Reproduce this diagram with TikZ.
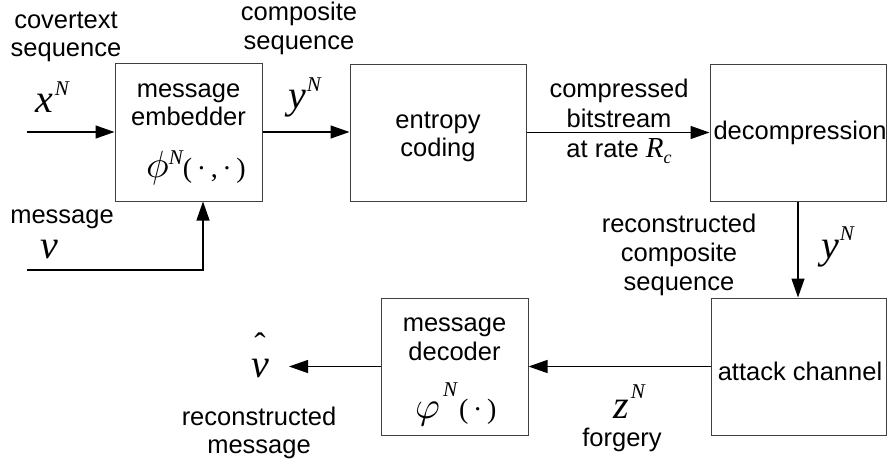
\documentclass[tikz,border=0pt]{standalone}
\usepackage{graphicx}
\usepackage{fontspec}
\setmainfont{Liberation Sans}
\newfontfamily\tms{Liberation Serif}
\usetikzlibrary{arrows.meta}

% italic symbol, superscript N, Greek symbol, and argument font
\newcommand{\mvar}[1]{{\tms\itshape\fontsize{40}{40}\selectfont #1}}
\newcommand{\supN}[1]{\raisebox{#1pt}{\tms\itshape\fontsize{21}{21}\selectfont N}}
\newcommand{\bigsym}[1]{\scalebox{3.8}{\fontsize{10}{12}\selectfont$#1$}}
\newcommand{\argfont}{\tms\fontsize{28}{28}\selectfont}

\begin{document}
\begin{tikzpicture}[x=1pt,y=-1pt,
  blk/.style={draw=black!75, line width=1pt, inner sep=0pt},
  lbl/.style={anchor=base, inner sep=0pt, font=\fontsize{25.5}{29}\selectfont},
  mth/.style={anchor=base west, inner sep=0pt},
  conn/.style={line width=1.3pt, -{Triangle[length=19pt,width=13pt]}}]

\useasboundingbox (0,0) rectangle (888,463);

% blocks
\node[blk, minimum width=147, minimum height=138] (emb) at (188.5,132) {};
\node[blk, minimum width=176, minimum height=137] (ent) at (438,132.5) {};
\node[blk, minimum width=176, minimum height=137] (dcp) at (798,132.5) {};
\node[blk, minimum width=175, minimum height=137] (atk) at (798.5,366.5) {};
\node[blk, minimum width=147, minimum height=137] (mdc) at (454.5,366.5) {};

% free ends
\coordinate (xin) at (27,132);
\coordinate (vin) at (27,270);
\coordinate (vbend) at (203,270);
\coordinate (vout) at (289,366.5);

% connectors
\draw[conn] (xin) -- (emb.west);
\draw[conn] (emb.east) -- (emb.east -| ent.west);
\draw[conn] (ent.east) -- (dcp.west);
\draw[conn] (vin) -- (vbend) -- (vbend |- emb.south);
\draw[conn] (dcp.south) -- (dcp.south |- atk.north);
\draw[conn] (atk.west) -- (mdc.east);
\draw[conn] (mdc.west) -- (vout);

% top-left labels
\node[lbl] (cov1) at (66,28) {covertext};
\node[lbl] (cov2) at (66,56) {sequence};
\node[mth] (xN) at (35,112) {\mvar{x}\hspace{2pt}\supN{17}};

\node[lbl] (cmp1) at (299,20) {composite};
\node[lbl] (cmp2) at (299,49) {sequence};
\node[mth] (yN1) at (288,108) {\mvar{y}\hspace{1pt}\supN{17}};

% embedder
\node[lbl] (emb1) at (188.5,97) {message};
\node[lbl] (emb2) at (188.5,125) {embedder};
\node[mth] (phi) at (146,177) {\bigsym{\phi}\supN{13}{\argfont(\,·\,,\,·\,)}};

\node[lbl] (msg) at (62,223) {message};
\node[mth] (vv) at (40,258) {\mvar{v}};

% entropy coding
\node[lbl] (ent1) at (438,128) {entropy};
\node[lbl] (ent2) at (438,156) {coding};

\node[lbl] (cb1) at (619,97) {compressed};
\node[lbl] (cb2) at (619,127) {bitstream};
\node[lbl] (cb3) at (619,157) {at rate {\tms\itshape\fontsize{29}{29}\selectfont R}\raisebox{-6pt}{\tms\itshape\fontsize{18}{18}\selectfont c}};

% decompression
\node[lbl] (dcp1) at (800,139) {decompression};

\node[lbl] (rc1) at (679,232) {reconstructed};
\node[lbl] (rc2) at (679,261) {composite};
\node[lbl] (rc3) at (679,290) {sequence};
\node[mth] (yN2) at (821,258) {\mvar{y}\hspace{1pt}\supN{18}};

% attack channel
\node[lbl] (atk1) at (800,380) {attack channel};

\node[mth] (zN) at (613,418) {\mvar{z}\hspace{2pt}\supN{20}};
\node[lbl] (fg) at (622,446) {forgery};

% decoder
\node[lbl] (md1) at (454.5,331) {message};
\node[lbl] (md2) at (454.5,360) {decoder};
\node[mth] (vphi) at (415,418) {\bigsym{\varphi}\hspace{3pt}\supN{22}\hspace{2pt}{\argfont(\,·\,)}};

% decoded message: v with a raised hat
\node[mth] (vh) at (251,377) {\mvar{v}\hspace{-14.5pt}\raisebox{21pt}{\tms\fontsize{34}{34}\selectfont ˆ}};
\node[lbl] (rm1) at (259,425) {reconstructed};
\node[lbl] (rm2) at (259,453) {message};

\end{tikzpicture}
\end{document}
